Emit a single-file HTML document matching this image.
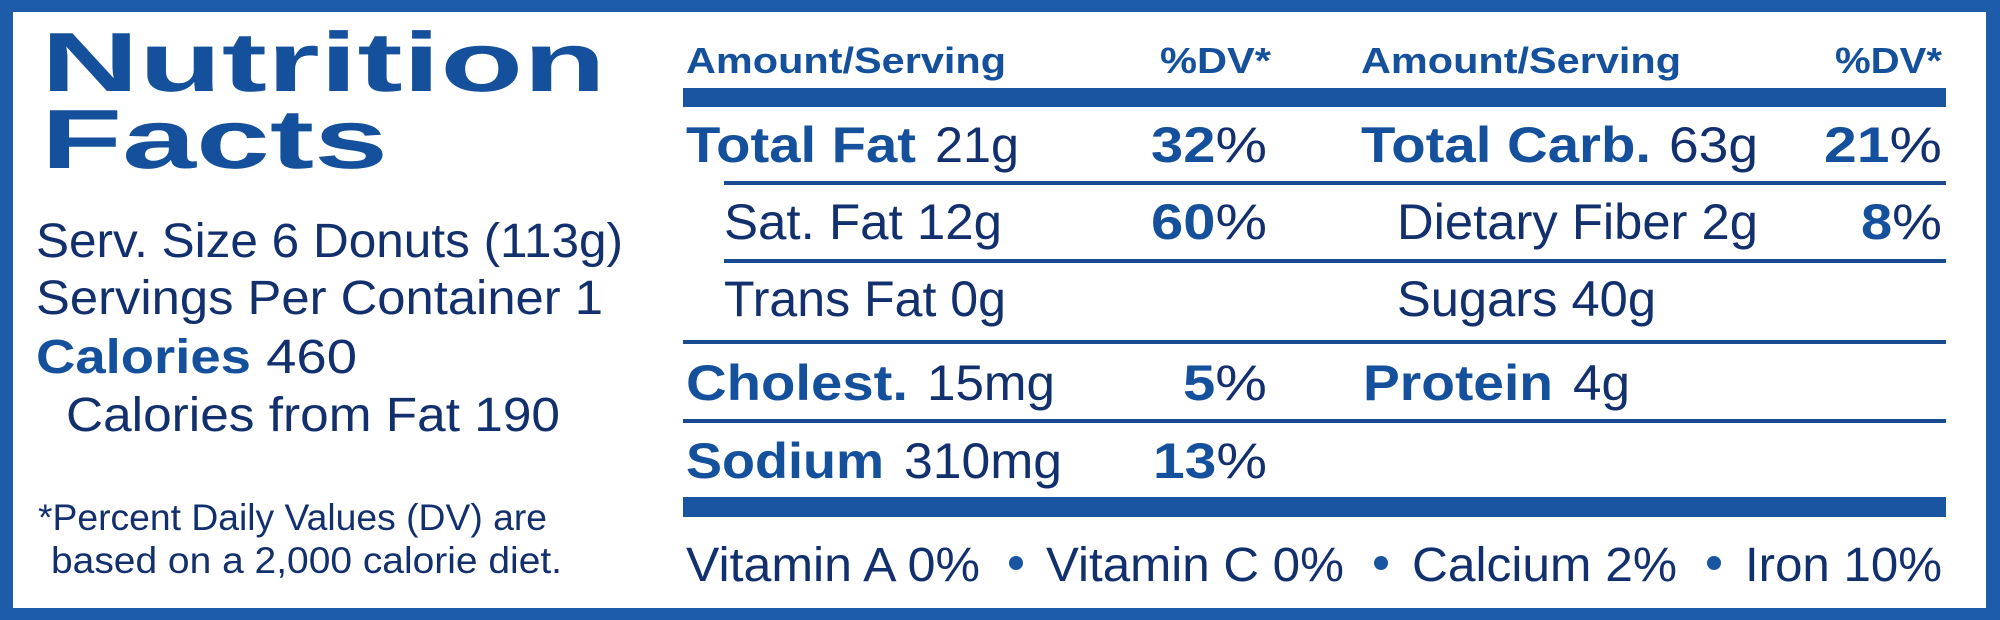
<!DOCTYPE html>
<html><head><meta charset="utf-8"><style>
html,body{margin:0;padding:0;background:#fff;width:2000px;height:620px;overflow:hidden}
svg{display:block}
text{font-family:"Liberation Sans",Arial,sans-serif}
.b{font-weight:bold;fill:#14509c}
.r{fill:#122f6e}
</style></head><body>
<svg width="2000" height="620" viewBox="0 0 2000 620" xmlns="http://www.w3.org/2000/svg">
<rect x="0" y="0" width="2000" height="620" fill="#1d5ca8"/>
<rect x="13" y="12" width="1973" height="596" fill="#fff"/>
<text class="b" x="41" y="91" font-size="84" textLength="565" lengthAdjust="spacingAndGlyphs">Nutrition</text>
<text class="b" x="41" y="168" font-size="84" textLength="347" lengthAdjust="spacingAndGlyphs">Facts</text>
<text class="r" x="36" y="257" font-size="48" textLength="587" lengthAdjust="spacingAndGlyphs">Serv. Size 6 Donuts (113g)</text>
<text class="r" x="36" y="314" font-size="48" textLength="567" lengthAdjust="spacingAndGlyphs">Servings Per Container 1</text>
<text x="36" y="373" font-size="48" textLength="321" lengthAdjust="spacingAndGlyphs"><tspan class="b">Calories</tspan><tspan class="r"> 460</tspan></text>
<text class="r" x="66" y="431" font-size="48" textLength="494" lengthAdjust="spacingAndGlyphs">Calories from Fat 190</text>
<text class="r" x="38" y="530" font-size="37" textLength="509" lengthAdjust="spacingAndGlyphs">*Percent Daily Values (DV) are</text>
<text class="r" x="51" y="573" font-size="37" textLength="511" lengthAdjust="spacingAndGlyphs">based on a 2,000 calorie diet.</text>

<text class="b" x="686" y="73" font-size="36" textLength="320" lengthAdjust="spacingAndGlyphs">Amount/Serving</text>
<text class="b" x="1160" y="73" font-size="36" textLength="111" lengthAdjust="spacingAndGlyphs">%DV*</text>
<text class="b" x="1361" y="73" font-size="36" textLength="320" lengthAdjust="spacingAndGlyphs">Amount/Serving</text>
<text class="b" x="1835" y="73" font-size="36" textLength="107" lengthAdjust="spacingAndGlyphs">%DV*</text>
<rect x="683" y="88" width="1263" height="19" fill="#1a55a2"/>

<text class="b" x="686" y="162" font-size="50" textLength="230" lengthAdjust="spacingAndGlyphs">Total Fat</text>
<text class="r" x="935" y="162" font-size="50" textLength="84" lengthAdjust="spacingAndGlyphs">21g</text>
<text x="1151" y="162" font-size="50" textLength="116" lengthAdjust="spacingAndGlyphs"><tspan class="b">32</tspan><tspan class="r">%</tspan></text>
<text class="b" x="1361" y="162" font-size="50" textLength="290" lengthAdjust="spacingAndGlyphs">Total Carb.</text>
<text class="r" x="1669" y="162" font-size="50" textLength="89" lengthAdjust="spacingAndGlyphs">63g</text>
<text x="1824" y="162" font-size="50" textLength="118" lengthAdjust="spacingAndGlyphs"><tspan class="b">21</tspan><tspan class="r">%</tspan></text>
<rect x="724" y="181" width="1222" height="4" fill="#1a4a90"/>

<text class="r" x="724" y="239" font-size="50" textLength="278" lengthAdjust="spacingAndGlyphs">Sat. Fat 12g</text>
<text x="1151" y="239" font-size="50" textLength="116" lengthAdjust="spacingAndGlyphs"><tspan class="b">60</tspan><tspan class="r">%</tspan></text>
<text class="r" x="1397" y="239" font-size="50" textLength="361" lengthAdjust="spacingAndGlyphs">Dietary Fiber 2g</text>
<text x="1861" y="239" font-size="50" textLength="81" lengthAdjust="spacingAndGlyphs"><tspan class="b">8</tspan><tspan class="r">%</tspan></text>
<rect x="724" y="259" width="1222" height="4" fill="#1a4a90"/>

<text class="r" x="724" y="316" font-size="50" textLength="282" lengthAdjust="spacingAndGlyphs">Trans Fat 0g</text>
<text class="r" x="1397" y="316" font-size="50" textLength="259" lengthAdjust="spacingAndGlyphs">Sugars 40g</text>
<rect x="683" y="340" width="1263" height="4" fill="#1a4a90"/>

<text class="b" x="686" y="400" font-size="50" textLength="222" lengthAdjust="spacingAndGlyphs">Cholest.</text>
<text class="r" x="927" y="400" font-size="50" textLength="128" lengthAdjust="spacingAndGlyphs">15mg</text>
<text x="1183" y="400" font-size="50" textLength="84" lengthAdjust="spacingAndGlyphs"><tspan class="b">5</tspan><tspan class="r">%</tspan></text>
<text class="b" x="1363" y="400" font-size="50" textLength="190" lengthAdjust="spacingAndGlyphs">Protein</text>
<text class="r" x="1573" y="400" font-size="50" textLength="57" lengthAdjust="spacingAndGlyphs">4g</text>
<rect x="683" y="419" width="1263" height="4" fill="#1a4a90"/>

<text class="b" x="686" y="478" font-size="50" textLength="198" lengthAdjust="spacingAndGlyphs">Sodium</text>
<text class="r" x="904" y="478" font-size="50" textLength="158" lengthAdjust="spacingAndGlyphs">310mg</text>
<text x="1153" y="478" font-size="50" textLength="114" lengthAdjust="spacingAndGlyphs"><tspan class="b">13</tspan><tspan class="r">%</tspan></text>
<rect x="683" y="497" width="1263" height="20" fill="#1a55a2"/>

<text class="r" x="686" y="581" font-size="48" textLength="294" lengthAdjust="spacingAndGlyphs">Vitamin A 0%</text>
<circle cx="1016" cy="563" r="7" fill="#1a55a2"/>
<text class="r" x="1046" y="581" font-size="48" textLength="298" lengthAdjust="spacingAndGlyphs">Vitamin C 0%</text>
<circle cx="1381" cy="563" r="7" fill="#1a55a2"/>
<text class="r" x="1412" y="581" font-size="48" textLength="265" lengthAdjust="spacingAndGlyphs">Calcium 2%</text>
<circle cx="1714" cy="563" r="7" fill="#1a55a2"/>
<text class="r" x="1745" y="581" font-size="48" textLength="197" lengthAdjust="spacingAndGlyphs">Iron 10%</text>
</svg>
</body></html>
